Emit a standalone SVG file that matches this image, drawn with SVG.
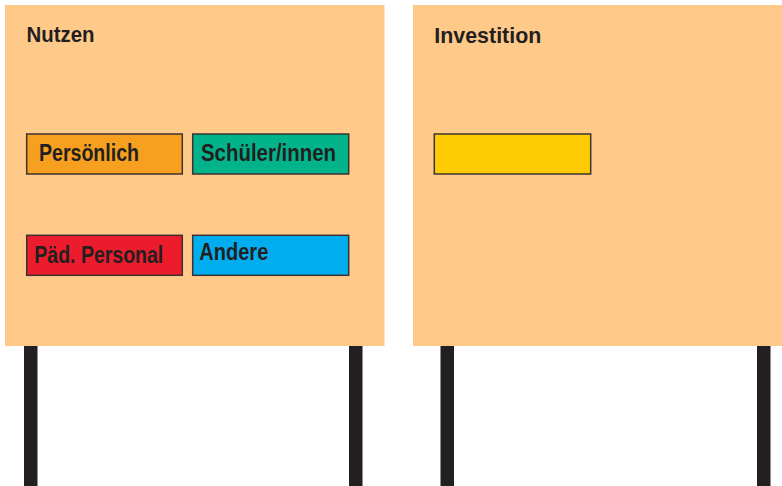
<svg xmlns="http://www.w3.org/2000/svg" width="782" height="486" viewBox="0 0 782 486">
<style>
.board{fill:#FFC98A}
.post{fill:#231F20}
.box{stroke:#3b3331;stroke-width:1.5}
.t{font-family:"Liberation Sans",Arial,sans-serif;font-weight:bold;fill:#231F20}
.h{font-size:22px}
.b{font-size:23px}
</style>
<rect width="782" height="486" fill="#ffffff"/>
<g id="posts">
<rect class="post" x="24" y="345" width="13.5" height="141"/>
<rect class="post" x="349" y="345" width="13.5" height="141"/>
<rect class="post" x="440.5" y="345" width="13.5" height="141"/>
<rect class="post" x="757" y="345" width="13.5" height="141"/>
</g>
<g id="board-nutzen">
<rect class="board" x="5" y="5" width="379.5" height="341"/>
<text class="t h" x="26.5" y="41.7" textLength="68" lengthAdjust="spacingAndGlyphs">Nutzen</text>
</g>
<g id="board-investition">
<rect class="board" x="413" y="5" width="369" height="341"/>
<text class="t h" x="434.3" y="42.7" textLength="107" lengthAdjust="spacingAndGlyphs">Investition</text>
</g>
<g id="node-persoenlich">
<rect class="box" x="26.7" y="134" width="155.6" height="40" fill="#F7A01F"/>
<text class="t b" x="39" y="160.7" textLength="100" lengthAdjust="spacingAndGlyphs">Persönlich</text>
</g>
<g id="node-schueler">
<rect class="box" x="192.7" y="134" width="156" height="40" fill="#00B38A"/>
<text class="t b" x="201" y="160.7" textLength="135" lengthAdjust="spacingAndGlyphs">Schüler/innen</text>
</g>
<g id="node-paed">
<rect class="box" x="26.7" y="235.3" width="155.6" height="40" fill="#ED1C2C"/>
<text class="t b" x="34.3" y="262.7" textLength="129" lengthAdjust="spacingAndGlyphs">Päd. Personal</text>
</g>
<g id="node-andere">
<rect class="box" x="192.7" y="235.3" width="156" height="40" fill="#00AEEF"/>
<text class="t b" x="199.3" y="260" textLength="69" lengthAdjust="spacingAndGlyphs">Andere</text>
</g>
<g id="node-investition">
<rect class="box" x="434.3" y="134" width="156.4" height="40" fill="#FFCB05"/>
</g>
<g id="connectors"/>
</svg>
